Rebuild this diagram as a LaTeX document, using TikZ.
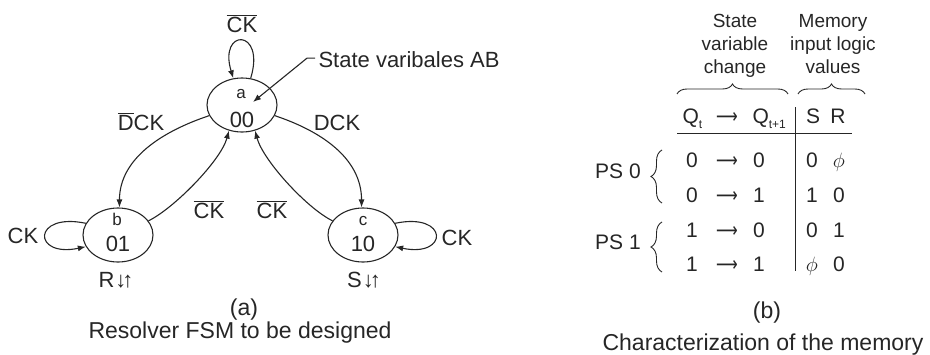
\documentclass[tikz,border=0pt]{standalone}
\usepackage{fontspec}
\usepackage{graphicx}
\setmainfont{Liberation Sans}
\newfontfamily\djv{DejaVu Sans}
\usetikzlibrary{shapes.geometric,arrows.meta,decorations.pathreplacing}
\newcommand\ovl[1]{$\overline{\mbox{#1}}$}
\newcommand\tarr{\scalebox{0.72}[1]{\djv ⟶}}
\newcommand\lsub[1]{\raisebox{-5pt}{\fontsize{12}{12}\selectfont #1}}
\newcommand\dnup{\kern1pt↓\kern-4pt↑}
\begin{document}
\begin{tikzpicture}[x=1pt,y=-1pt,
  line width=1.1pt, color=black!85,
  stnode/.style={ellipse, draw, line width=1.1pt, minimum width=70pt, minimum height=54pt, inner sep=0pt},
  lbl/.style={font=\fontsize{22}{24}\selectfont, inner sep=0pt, anchor=base},
  sml/.style={font=\fontsize{17}{19}\selectfont, inner sep=0pt, anchor=base},
  captxt/.style={font=\fontsize{23}{25}\selectfont, inner sep=0pt, anchor=base},
  hdr/.style={font=\fontsize{19}{21}\selectfont, inner sep=0pt, anchor=base},
  tbl/.style={font=\fontsize{21}{23}\selectfont, inner sep=0pt, anchor=base},
  arr/.style={-{Latex[length=8pt,width=6pt]}},
  brc/.style={decorate, decoration={brace, amplitude=#1}},
  brc/.default=10pt]
\useasboundingbox (0,0) rectangle (930,354);

% ---------- (a) state diagram ----------
\node[stnode] (a) at (242,105) {};
\node[stnode] (b) at (118,235) {};
\node[stnode] (c) at (363,235) {};

\node[sml] (al) at (241,98) {a};
\node[lbl] (av) at (242,127) {00};
\node[sml] (bl) at (117,225) {b};
\node[lbl] (bv) at (118,251) {01};
\node[sml] (cl) at (363,225) {c};
\node[lbl] (cv) at (363,251) {10};

% self loops
\draw[arr] (a.72) .. controls (266,28) and (218,28) .. (a.108);
\draw[arr] (b.160) .. controls (32,212) and (32,258) .. (b.200);
\draw[arr] (c.20) .. controls (449,212) and (449,258) .. (c.-20);

% transitions
\draw[arr] (a.198) .. controls +(-45,15) and +(0,-50) .. (b.87);
\draw[arr] (b.25) .. controls +(25,-12) and +(-8,30) .. (a.243);
\draw[arr] (c.155) .. controls +(-25,-12) and +(8,30) .. (a.297);
\draw[arr] (a.-18) .. controls +(45,15) and +(0,-50) .. (c.93);

% labels
\node[lbl] (lck) at (242,32) {\ovl{CK}};
\node[lbl] (ldck) at (141,130) {\ovl{D}CK};
\node[lbl] (rdck) at (337,130) {DCK};
\node[lbl] (mck1) at (209,218) {\ovl{CK}};
\node[lbl] (mck2) at (272,218) {\ovl{CK}};
\node[lbl] (bck) at (23,243) {CK};
\node[lbl] (cck) at (457,245) {CK};
\node[lbl] (bro) at (116,287) {R\dnup};
\node[lbl] (cso) at (364,287) {S\dnup};

\node[lbl, anchor=base west] (sv) at (318,67) {State varibales AB};
\coordinate (svt) at (253,102);
\draw[arr] (sv.west) ++(-3,-1) -- ++(-8,0) -- (svt);

\node[captxt] (pa) at (244,315) {(a)};
\node[captxt] (ca) at (240,338) {Resolver FSM to be designed};

% ---------- (b) memory table ----------
\node[hdr] (h1a) at (735,27) {State};
\node[hdr] (h1b) at (735,50) {variable};
\node[hdr] (h1c) at (735,73) {change};
\node[hdr] (h2a) at (833,27) {Memory};
\node[hdr] (h2b) at (833,50) {input logic};
\node[hdr] (h2c) at (833,73) {values};

\draw[brc, line width=0.9pt] (677,94) -- (788,94);
\draw[brc, line width=0.9pt] (798,94) -- (865,94);

\node[tbl, anchor=base west] (qt) at (682,123) {Q\lsub{t}};
\node[tbl] (qa) at (727,123) {\tarr};
\node[tbl, anchor=base west] (qt1) at (752,123) {Q\lsub{t+1}};
\node[tbl] (hs) at (813,123) {S};
\node[tbl] (hr) at (838,123) {R};

\draw[line width=1pt] (677,133) -- (852,133);
\draw[line width=1pt] (795,107) -- (795,271);

\foreach \r/\yy/\p/\q/\s/\t in {1/167/0/0/0/$\phi$, 2/202/0/1/1/0, 3/237/1/0/0/1, 4/271/1/1/$\phi$/0}{
  \node[tbl] (p\r) at (692,\yy) {\p};
  \node[tbl] (ar\r) at (727,\yy) {\tarr};
  \node[tbl] (q\r) at (759,\yy) {\q};
  \node[tbl] (s\r) at (812,\yy) {\s};
  \node[tbl] (t\r) at (839,\yy) {\t};
}

\node[tbl] (ps0) at (618,178) {PS 0};
\node[tbl] (ps1) at (618,249) {PS 1};
\draw[brc=11pt, line width=0.9pt] (662,203) -- (662,150);
\draw[brc=11pt, line width=0.9pt] (662,272) -- (662,222);

\node[captxt] (pb) at (767,318) {(b)};
\node[captxt] (cb) at (763,350) {Characterization of the memory};
\end{tikzpicture}
\end{document}
